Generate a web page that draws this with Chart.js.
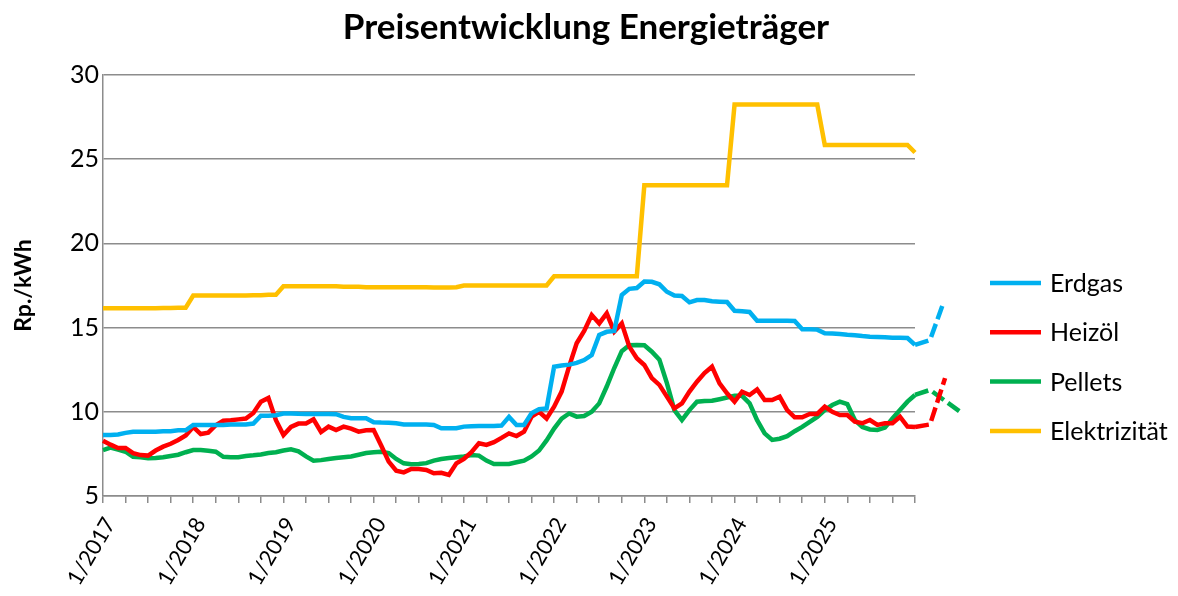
<!DOCTYPE html>
<html>
<head>
<meta charset="utf-8">
<script src="https://cdn.jsdelivr.net/npm/chart.js@4.4.1/dist/chart.umd.min.js"></script>
<style>
  html, body { margin: 0; padding: 0; background: #fff; }
  #wrap { width: 1178px; height: 596px; }
</style>
</head>
<body>
<div id="wrap"><canvas id="chart" width="1178" height="596"></canvas></div>
<script>
const startYear = 2017;
const yTicks = [5, 10, 15, 20, 25, 30];
const chartTitle = "Preisentwicklung Energieträger";

// monthly values from 1/2017 (index 0) to 1/2026 (index 108)
const erdgas = [
  8.62, 8.62, 8.65, 8.75, 8.82, 8.82, 8.82, 8.82, 8.85, 8.85, 8.9, 8.9,
  9.22, 9.22, 9.22, 9.22, 9.22, 9.25, 9.25, 9.25, 9.3, 9.77, 9.77, 9.8,
  9.9, 9.9, 9.88, 9.87, 9.87, 9.87, 9.87, 9.86, 9.7, 9.62, 9.62, 9.62,
  9.38, 9.36, 9.35, 9.32, 9.25, 9.25, 9.25, 9.25, 9.22, 9.02, 9.02, 9.02,
  9.12, 9.14, 9.15, 9.16, 9.16, 9.18, 9.7, 9.22, 9.22, 9.91, 10.15, 10.2,
  12.68, 12.75, 12.8, 12.9, 13.07, 13.37, 14.56, 14.75, 14.8, 16.94, 17.3, 17.35,
  17.73, 17.72, 17.57, 17.13, 16.9, 16.88, 16.5, 16.64, 16.64, 16.56, 16.54, 16.52,
  16.0, 15.97, 15.93, 15.41, 15.4, 15.4, 15.4, 15.4, 15.39, 14.9, 14.9, 14.88,
  14.66, 14.65, 14.62, 14.58, 14.55, 14.5, 14.46, 14.44, 14.42, 14.4, 14.4, 14.38,
  13.97
];
const heizoel = [
  8.28, 8.05, 7.85, 7.85, 7.55, 7.43, 7.4, 7.7, 7.93, 8.1, 8.33, 8.6,
  9.1, 8.68, 8.76, 9.2, 9.47, 9.5, 9.55, 9.6, 9.93, 10.6, 10.82, 9.5,
  8.62, 9.1, 9.3, 9.3, 9.55, 8.8, 9.12, 8.92, 9.12, 9.0, 8.82, 8.9,
  8.92, 8.0, 7.04, 6.5, 6.4, 6.6, 6.6, 6.55, 6.35, 6.38, 6.25, 6.94,
  7.2, 7.6, 8.13, 8.03, 8.2, 8.45, 8.72, 8.56, 8.82, 9.71, 10.0, 9.6,
  10.3, 11.2, 12.7, 14.07, 14.8, 15.75, 15.25, 15.85, 14.76, 15.25, 13.87, 13.18,
  12.78, 12.0, 11.6, 10.9, 10.2, 10.5, 11.2, 11.79, 12.3, 12.68, 11.69, 11.1,
  10.6, 11.19, 11.0, 11.33, 10.7, 10.7, 10.9, 10.1, 9.67, 9.67, 9.87, 9.87,
  10.3, 10.0, 9.81, 9.81, 9.41, 9.32, 9.51, 9.22, 9.32, 9.32, 9.71, 9.12,
  9.1
];
const pellets = [
  7.73, 7.87, 7.75, 7.63, 7.33, 7.3, 7.24, 7.25, 7.3, 7.38, 7.45, 7.6,
  7.73, 7.73, 7.69, 7.63, 7.33, 7.3, 7.3, 7.38, 7.42, 7.47, 7.55, 7.6,
  7.7, 7.77, 7.65, 7.35, 7.1, 7.13, 7.2, 7.25, 7.3, 7.35, 7.45, 7.55,
  7.6, 7.63, 7.55, 7.2, 6.94, 6.88, 6.9, 6.95, 7.1, 7.2, 7.25, 7.3,
  7.35, 7.43, 7.4, 7.1, 6.9, 6.9, 6.9, 7.0, 7.1, 7.35, 7.7, 8.3,
  9.0, 9.6, 9.9, 9.71, 9.75, 10.0, 10.5, 11.5, 12.6, 13.6, 13.95, 13.97,
  13.95, 13.57, 13.1, 11.7, 10.1, 9.51, 10.1, 10.6, 10.64, 10.66, 10.75, 10.85,
  10.95, 10.95, 10.5, 9.5, 8.72, 8.33, 8.4, 8.55, 8.85, 9.1, 9.4, 9.7,
  10.1, 10.4, 10.6, 10.46, 9.51, 9.1, 8.95, 8.92, 9.06, 9.6, 10.1, 10.6,
  11.0
];
const elektrizitaet = [
  16.15, 16.15, 16.15, 16.15, 16.15, 16.15, 16.15, 16.15, 16.17, 16.17, 16.18, 16.18,
  16.9, 16.9, 16.9, 16.9, 16.9, 16.9, 16.9, 16.9, 16.92, 16.92, 16.95, 16.95,
  17.45, 17.45, 17.45, 17.45, 17.45, 17.45, 17.45, 17.45, 17.43, 17.43, 17.42, 17.4,
  17.4, 17.4, 17.4, 17.4, 17.4, 17.4, 17.4, 17.4, 17.38, 17.38, 17.38, 17.4,
  17.5, 17.5, 17.5, 17.5, 17.5, 17.5, 17.5, 17.5, 17.5, 17.5, 17.5, 17.5,
  18.05, 18.05, 18.05, 18.05, 18.05, 18.05, 18.05, 18.05, 18.05, 18.05, 18.05, 18.05,
  23.45, 23.45, 23.45, 23.45, 23.45, 23.45, 23.45, 23.45, 23.45, 23.45, 23.45, 23.45,
  28.25, 28.25, 28.25, 28.25, 28.25, 28.25, 28.25, 28.25, 28.25, 28.25, 28.25, 28.25,
  25.85, 25.85, 25.85, 25.85, 25.85, 25.85, 25.85, 25.85, 25.85, 25.85, 25.85, 25.85,
  25.4
];

// forecast (dashed), month index and value
const erdgasPrognoseX = [108, 110, 111.8];
const erdgasPrognose = [13.97, 14.26, 16.5];
const heizoelPrognoseX = [108, 110, 112];
const heizoelPrognose = [9.1, 9.25, 12.0];
const pelletsPrognoseX = [108, 110, 114];
const pelletsPrognose = [11.0, 11.3, 10.0];

const colors = {
  erdgas: "#00B0F0",
  heizoel: "#FF0000",
  pellets: "#00B050",
  strom: "#FFC000"
};
const gridColor = "#8c8c8c";
const fontFamily = "Lato, 'Open Sans', sans-serif";

function toPoints(values, xs) {
  return values.map((v, i) => ({ x: xs ? xs[i] : i, y: v }));
}

function lineSet(label, values, color, xs, dashed) {
  return {
    label,
    data: toPoints(values, xs),
    borderColor: color,
    backgroundColor: color,
    borderWidth: 4.5,
    borderDash: dashed ? [14, 5] : [],
    pointRadius: 0,
    tension: 0,
    clip: false,
    inLegend: !dashed
  };
}

// title over the whole canvas and legend at the right, like the Excel original
const sideLegend = {
  id: "sideLegend",
  afterDraw(chart) {
    const ctx = chart.ctx;
    const items = chart.data.datasets.filter(d => d.inLegend);
    ctx.save();
    ctx.fillStyle = "#000";
    ctx.textBaseline = "middle";
    ctx.textAlign = "center";
    ctx.font = "bold 35px " + fontFamily;
    ctx.fillText(chartTitle, 586, 28);

    ctx.textAlign = "left";
    ctx.font = "25px " + fontFamily;
    items.forEach((d, i) => {
      const y = 283 + i * 49.3;
      ctx.strokeStyle = d.borderColor;
      ctx.lineWidth = 4.5;
      ctx.beginPath();
      ctx.moveTo(990, y);
      ctx.lineTo(1041, y);
      ctx.stroke();
      ctx.fillText(d.label, 1050, y + 1);
    });
    ctx.restore();
  }
};

new Chart(document.getElementById("chart"), {
  type: "line",
  data: {
    datasets: [
      lineSet("Erdgas", erdgas, colors.erdgas),
      lineSet("Heizöl", heizoel, colors.heizoel),
      lineSet("Pellets", pellets, colors.pellets),
      lineSet("Elektrizität", elektrizitaet, colors.strom),
      lineSet("Erdgas Prognose", erdgasPrognose, colors.erdgas, erdgasPrognoseX, true),
      lineSet("Heizöl Prognose", heizoelPrognose, colors.heizoel, heizoelPrognoseX, true),
      lineSet("Pellets Prognose", pelletsPrognose, colors.pellets, pelletsPrognoseX, true)
    ]
  },
  options: {
    responsive: false,
    animation: false,
    devicePixelRatio: 1,
    layout: {
      padding: { left: 0, right: 263, top: 75, bottom: 0 }
    },
    plugins: {
      legend: { display: false },
      tooltip: { enabled: false },
      title: { display: false }
    },
    scales: {
      x: {
        type: "linear",
        bounds: "data",
        // range set here (not as min/max) so the forecast past 1/2026 is still drawn
        afterDataLimits(scale) { scale.min = 0; scale.max = 108; },
        afterFit(scale) { scale.height = 100; },
        afterBuildTicks(scale) {
          const t = [];
          for (let m = 0; m <= 108; m += 3) t.push({ value: m });
          scale.ticks = t;
          scale.min = 0;
          scale.max = 108;
        },
        ticks: {
          autoSkip: false,
          minRotation: 60,
          maxRotation: 60,
          color: "#000",
          padding: 10,
          labelOffset: 7,
          font: { family: fontFamily, size: 22 },
          callback(v) {
            return v % 12 === 0 && v < 108 ? "1/" + (startYear + v / 12) : "";
          }
        },
        grid: {
          drawOnChartArea: false,
          drawTicks: true,
          tickLength: 7,
          color: gridColor,
          lineWidth: 1.5
        },
        border: { display: true, color: gridColor, width: 1.5 }
      },
      y: {
        min: 5,
        max: 30,
        afterFit(scale) { scale.width = 103; },
        afterBuildTicks(scale) {
          scale.ticks = yTicks.map(v => ({ value: v }));
        },
        title: {
          display: true,
          text: "Rp./kWh",
          color: "#000",
          font: { family: fontFamily, size: 23, weight: "bold" },
          padding: { top: 10, bottom: 0 }
        },
        ticks: {
          color: "#000",
          padding: 4,
          font: { family: fontFamily, size: 25 }
        },
        grid: {
          color: gridColor,
          lineWidth: 1.5,
          drawTicks: false
        },
        border: { display: true, color: gridColor, width: 1.5 }
      }
    }
  },
  plugins: [sideLegend]
});
</script>
</body>
</html>
